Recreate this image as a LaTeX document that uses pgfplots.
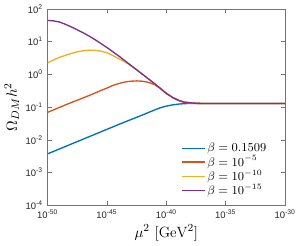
\documentclass[border=0pt]{standalone}
\usepackage{fontspec}
\usepackage{pgfplots}
\usepackage{pgfplotstable}
\pgfplotsset{compat=1.18}
\newfontfamily\tickfont{Liberation Sans}
\definecolor{mblue}{rgb}{0,0.447,0.741}
\definecolor{morange}{rgb}{0.85,0.325,0.098}
\definecolor{myellow}{rgb}{0.929,0.694,0.125}
\definecolor{mpurple}{rgb}{0.494,0.184,0.556}
\definecolor{axgray}{rgb}{0.45,0.45,0.45}

% L = log10(mu^2 / GeV^2), Y = log10(Omega h^2)
\pgfplotstableread{
L Y
-50 -2.43
-48 -2.13
-46 -1.83
-44 -1.53
-42 -1.24
-41 -1.09
-40.5 -1.02
-40 -0.97
-39.5 -0.935
-39 -0.91
-38.5 -0.895
-38 -0.89
-30 -0.89
}\tblA
\pgfplotstableread{
L Y
-50 -1.16
-49 -1.01
-48 -0.86
-47 -0.72
-46 -0.57
-45.5 -0.49
-45 -0.42
-44.5 -0.34
-44 -0.28
-43.5 -0.235
-43 -0.21
-42.5 -0.20
-42 -0.21
-41.5 -0.245
-41 -0.31
-40.5 -0.43
-40 -0.58
-39.5 -0.70
-39 -0.79
-38.5 -0.85
-38 -0.87
-37.5 -0.885
-37 -0.89
-30 -0.89
}\tblB
\pgfplotstableread{
L Y
-50 0.35
-49.5 0.44
-49 0.52
-48.5 0.58
-48 0.64
-47.5 0.69
-47 0.72
-46.5 0.74
-46 0.735
-45.5 0.71
-45 0.66
-44.5 0.575
-44 0.48
-43.5 0.385
-43 0.27
-42.5 0.14
-42 0.00
-41.5 -0.14
-41 -0.28
-40.5 -0.43
-40 -0.58
-39.5 -0.70
-39 -0.79
-38.5 -0.85
-38 -0.87
-37.5 -0.885
-37 -0.89
-30 -0.89
}\tblC
\pgfplotstableread{
L Y
-50 1.65
-49.5 1.635
-49 1.60
-48.5 1.53
-48 1.45
-47.5 1.36
-47 1.27
-46.5 1.17
-46 1.06
-45.5 0.94
-45 0.82
-44.5 0.69
-44 0.56
-43.5 0.42
-43 0.28
-42.5 0.14
-42 0.00
-41.5 -0.14
-41 -0.28
-40.5 -0.43
-40 -0.58
-39.5 -0.70
-39 -0.79
-38.5 -0.85
-38 -0.87
-37.5 -0.885
-37 -0.89
-30 -0.89
}\tblD

\begin{document}
\begin{tikzpicture}
\begin{axis}[
  scale only axis,
  width=176pt, height=145.5pt,
  xmode=log, ymode=log,
  log basis x=10, log basis y=10,
  xmin=1e-50, xmax=1e-30,
  ymin=1e-4, ymax=1e2,
  xtick={1e-50,1e-45,1e-40,1e-35,1e-30},
  ytick={1e-4,1e-3,1e-2,1e-1,1e0,1e1,1e2},
  xticklabel={\tickfont 10\textsuperscript{\pgfmathprintnumber[assume math mode=true,fixed,precision=0]{\tick}}},
  yticklabel={\tickfont 10\textsuperscript{\pgfmathprintnumber[assume math mode=true,fixed,precision=0]{\tick}}},
  ticklabel style={font=\fontsize{7}{8}\selectfont, text=black!85},
  tick align=inside,
  major tick length=3pt,
  minor tick length=1.6pt,
  every tick/.style={axgray, line width=0.4pt},
  axis line style={axgray, line width=0.5pt},
  xlabel={$\mu^2\ [\mathrm{GeV}^2]$},
  ylabel={$\Omega_{DM}h^2$},
  label style={font=\fontsize{11}{13}\selectfont},
  xlabel style={yshift=3pt},
  ylabel style={yshift=-2pt},
  legend style={draw=none, fill=none, font=\fontsize{9}{10}\selectfont,
    at={(rel axis cs:0.945,0.02)}, anchor=south east,
    nodes={inner sep=1pt}, row sep=-0.5pt},
  legend cell align=left,
]
\addplot[mblue, line width=1pt] table[x expr={10^(\thisrow{L})}, y expr={10^(\thisrow{Y})}]{\tblA};
\addplot[morange, line width=1pt] table[x expr={10^(\thisrow{L})}, y expr={10^(\thisrow{Y})}]{\tblB};
\addplot[myellow, line width=1pt] table[x expr={10^(\thisrow{L})}, y expr={10^(\thisrow{Y})}]{\tblC};
\addplot[mpurple, line width=1pt] table[x expr={10^(\thisrow{L})}, y expr={10^(\thisrow{Y})}]{\tblD};
\legend{$\beta=0.1509$, $\beta=10^{-5}$, $\beta=10^{-10}$, $\beta=10^{-15}$}
\end{axis}
\end{tikzpicture}
\end{document}
